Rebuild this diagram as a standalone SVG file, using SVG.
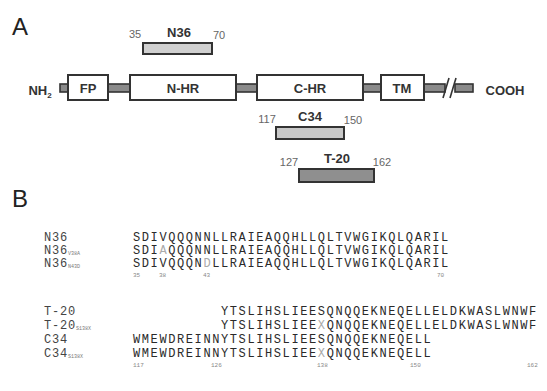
<svg xmlns="http://www.w3.org/2000/svg" width="547" height="391" viewBox="0 0 547 391">
<style>
.panel{font-family:"Liberation Sans",Arial,sans-serif;font-size:24px;fill:#222}
.box{fill:#fff;stroke:#333;stroke-width:2}
.lbl{font-family:"Liberation Sans",Arial,sans-serif;font-weight:bold;font-size:13px;fill:#333;text-anchor:middle}
.num{font-family:"Liberation Sans",Arial,sans-serif;font-size:11px;fill:#666;text-anchor:middle}
.link{fill:#8a8a8a;stroke:#333;stroke-width:1.6}
.pep{stroke:#333;stroke-width:2}
.seq{font-family:"Liberation Mono","Courier New",monospace;font-size:12px;letter-spacing:1.6px;fill:#2a2a2a}
.name{font-family:"Liberation Mono","Courier New",monospace;font-size:12px;letter-spacing:0.8px;fill:#444}
.sub{font-family:"Liberation Mono","Courier New",monospace;font-size:5px;letter-spacing:0;fill:#777}
.mut{fill:#aaa}
.pos{font-family:"Liberation Mono","Courier New",monospace;font-size:6px;fill:#888}
</style>
<text class="panel" x="12" y="35">A</text>
<text class="panel" x="12" y="207">B</text>

<g id="connectors">
<rect class="link" x="60" y="84" width="8" height="8"/>
<rect class="link" x="108" y="84" width="22" height="8"/>
<rect class="link" x="236" y="84" width="21" height="8"/>
<rect class="link" x="363" y="84" width="18" height="8"/>
<rect class="link" x="424" y="84" width="21" height="8"/>
<rect class="link" x="455" y="84" width="18" height="8"/>
<line x1="443" y1="98" x2="449" y2="78" stroke="#333" stroke-width="1.6"/>
<line x1="450" y1="98" x2="456" y2="78" stroke="#333" stroke-width="1.6"/>
</g>

<g id="nh2"><text class="lbl" x="40" y="95">NH<tspan font-size="8" dy="3">2</tspan></text></g>
<g id="fp"><rect class="box" x="68" y="75" width="40" height="25"/><text class="lbl" x="88" y="93">FP</text></g>
<g id="nhr"><rect class="box" x="130" y="75" width="106" height="25"/><text class="lbl" x="183" y="93">N-HR</text></g>
<g id="chr"><rect class="box" x="257" y="75" width="106" height="25"/><text class="lbl" x="310" y="93">C-HR</text></g>
<g id="tm"><rect class="box" x="381" y="75" width="43" height="25"/><text class="lbl" x="402" y="93" font-size="12">TM</text></g>
<g id="cooh"><text class="lbl" x="505" y="95" font-size="14">COOH</text></g>

<g id="n36bar">
<rect class="pep" x="143" y="43" width="69" height="11" fill="#d0d0d0"/>
<text class="num" x="135" y="38">35</text>
<text class="lbl" x="179" y="37">N36</text>
<text class="num" x="219" y="39">70</text>
</g>
<g id="c34bar">
<rect class="pep" x="276" y="127" width="68" height="12" fill="#c8c8c8"/>
<text class="num" x="267" y="123">117</text>
<text class="lbl" x="310" y="121">C34</text>
<text class="num" x="353" y="124">150</text>
</g>
<g id="t20bar">
<rect class="pep" x="299" y="169" width="75" height="13" fill="#8f8f8f"/>
<text class="num" x="289" y="166">127</text>
<text class="lbl" x="337" y="163">T-20</text>
<text class="num" x="382" y="166">162</text>
</g>

<g id="seqN">
<text class="name" x="44" y="241">N36</text>
<text class="seq" x="133" y="241">SDIVQQQNNLLRAIEAQQHLLQLTVWGIKQLQARIL</text>
<text class="name" x="44" y="254">N36<tspan class="sub" dy="1">V38A</tspan></text>
<text class="seq" x="133" y="254">SDI<tspan class="mut">A</tspan>QQQNNLLRAIEAQQHLLQLTVWGIKQLQARIL</text>
<text class="name" x="44" y="267">N36<tspan class="sub" dy="1">N43D</tspan></text>
<text class="seq" x="133" y="267">SDIVQQQN<tspan class="mut">D</tspan>LLRAIEAQQHLLQLTVWGIKQLQARIL</text>
<text class="pos" x="133" y="277">35</text>
<text class="pos" x="159" y="277">38</text>
<text class="pos" x="203" y="277">43</text>
<text class="pos" x="437" y="277">70</text>
</g>

<g id="seqC">
<text class="name" x="44" y="315">T-20</text>
<text class="seq" x="221" y="315">YTSLIHSLIEESQNQQEKNEQELLELDKWASLWNWF</text>
<text class="name" x="44" y="329">T-20<tspan class="sub" dy="1">S138X</tspan></text>
<text class="seq" x="221" y="329">YTSLIHSLIEE<tspan class="mut">X</tspan>QNQQEKNEQELLELDKWASLWNWF</text>
<text class="name" x="44" y="343">C34</text>
<text class="seq" x="133" y="343">WMEWDREINNYTSLIHSLIEESQNQQEKNEQELL</text>
<text class="name" x="44" y="357">C34<tspan class="sub" dy="1">S138X</tspan></text>
<text class="seq" x="133" y="357">WMEWDREINNYTSLIHSLIEE<tspan class="mut">X</tspan>QNQQEKNEQELL</text>
<text class="pos" x="133" y="367">117</text>
<text class="pos" x="211" y="367">126</text>
<text class="pos" x="317" y="367">138</text>
<text class="pos" x="410" y="367">150</text>
<text class="pos" x="527" y="367">162</text>
</g>
</svg>
